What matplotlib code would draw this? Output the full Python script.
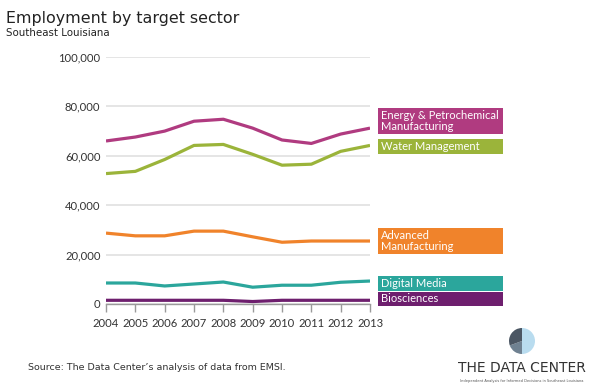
import matplotlib
matplotlib.use("Agg")
import matplotlib.pyplot as plt
from matplotlib.patches import Rectangle, Wedge
import matplotlib.ticker as mticker

years = [2004, 2005, 2006, 2007, 2008, 2009, 2010, 2011, 2012, 2013]
energy = [66000, 67600, 70000, 74000, 74800, 71200, 66400, 65000, 68800, 71200]
water = [52800, 53700, 58500, 64200, 64600, 60600, 56200, 56600, 61800, 64200]
advanced = [28700, 27600, 27600, 29500, 29500, 27200, 25000, 25500, 25500, 25500]
digital = [8500, 8500, 7300, 8100, 8900, 6800, 7600, 7600, 8800, 9300]
bio = [1500, 1500, 1500, 1500, 1500, 1000, 1500, 1500, 1500, 1500]

series_names = ["Energy & Petrochemical\nManufacturing", "Water Management",
                "Advanced\nManufacturing", "Digital Media", "Biosciences"]
series_values = [energy, water, advanced, digital, bio]
line_colors = ["#b03b80", "#9bb43a", "#f0832b", "#2ba69c", "#6e1f6e"]
y_ticks = [0, 20000, 40000, 60000, 80000, 100000]

# label box layout in figure pixels (top, bottom)
box_rows = [(108, 134), (139, 154), (228, 254), (276, 291), (292, 306)]

W, H = 592, 391
fig = plt.figure(figsize=(W / 100, H / 100), dpi=100)
fig.patch.set_facecolor("white")

ax = fig.add_axes([106 / W, 1 - 304 / H, (370 - 106) / W, (304 - 57) / H])
for vals, c in zip(series_values, line_colors):
    ax.plot(years, vals, color=c, lw=2.3, solid_capstyle="butt", zorder=3)

ax.set_xlim(2004, 2013)
ax.set_ylim(0, 100000)
ax.set_yticks(y_ticks)
ax.yaxis.set_major_formatter(mticker.FuncFormatter(lambda v, p: f"{int(v):,}"))
ax.set_xticks(years)
ax.grid(axis="y", color="#e0e0e0", lw=1.2, zorder=0)
ax.set_axisbelow(True)
for s in ["top", "right", "left"]:
    ax.spines[s].set_visible(False)
ax.spines["bottom"].set_color("#9a9a9a")
ax.spines["bottom"].set_linewidth(1.0)
ax.tick_params(axis="y", length=0, pad=4, labelsize=8.1, labelcolor="#333333")
ax.tick_params(axis="x", length=6, width=1, color="#9a9a9a", pad=4, labelsize=8.1,
               labelcolor="#333333")
for lab in ax.get_xticklabels() + ax.get_yticklabels():
    lab.set_fontfamily("Lato")

# label boxes
for name, c, (t, b) in zip(series_names, line_colors, box_rows):
    x0, x1 = 378, 503
    fig.patches.append(Rectangle((x0 / W, 1 - b / H), (x1 - x0) / W, (b - t) / H,
                                 transform=fig.transFigure, facecolor=c,
                                 edgecolor="none"))
    fig.text((x0 + 3) / W, 1 - ((t + b) / 2) / H, name, color="white",
             fontsize=8.0, family="Lato", va="center", ha="left",
             linespacing=1.08)

fig.text(6 / W, 1 - 18 / H, "Employment by target sector", fontsize=11.4,
         color="#222222", va="center", ha="left", family="DejaVu Sans")
fig.text(6 / W, 1 - 33 / H, "Southeast Louisiana", fontsize=7.4,
         color="#222222", va="center", ha="left", family="DejaVu Sans")

fig.text(28 / W, 1 - 367 / H, "Source: The Data Center\u2019s analysis of data from EMSI.",
         fontsize=6.8, color="#333333", va="center", ha="left", family="DejaVu Sans")

# logo
cx, cy, r = 522, 341, 13
lax = fig.add_axes([(cx - r) / W, 1 - (cy + r) / H, 2 * r / W, 2 * r / H])
lax.set_xlim(-1, 1)
lax.set_ylim(-1, 1)
lax.axis("off")
lax.add_patch(Wedge((0, 0), 1, -90, 90, facecolor="#b9dcef", edgecolor="none"))
lax.add_patch(Wedge((0, 0), 1, 200, 270, facecolor="#6f8191", edgecolor="none"))
lax.add_patch(Wedge((0, 0), 1, 90, 200, facecolor="#4b5663", edgecolor="none"))

fig.text(522 / W, 1 - 368 / H, "THE DATA CENTER", fontsize=10, color="#333333",
         va="center", ha="center", family="DejaVu Sans")
fig.text(522 / W, 1 - 381 / H,
         "Independent Analysis for Informed Decisions in Southeast Louisiana",
         fontsize=2.6, color="#555555", va="center", ha="center", family="DejaVu Sans")

fig.savefig("out.png", dpi=100, facecolor="white")
